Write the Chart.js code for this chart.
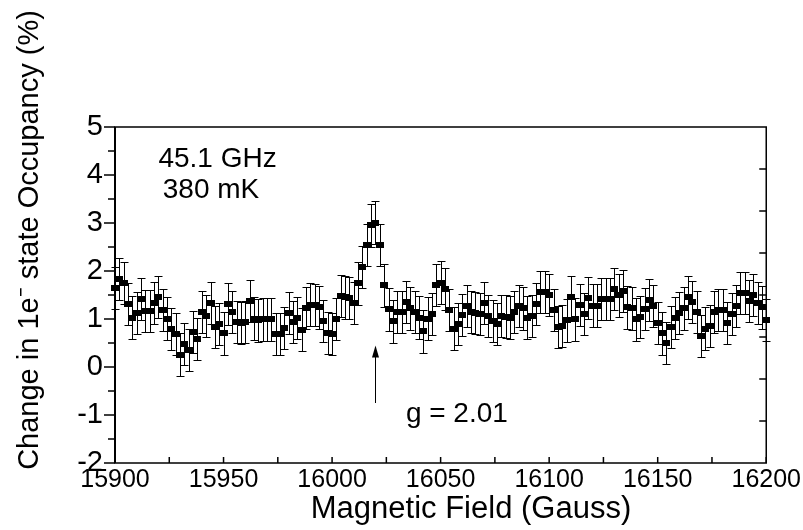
<!DOCTYPE html>
<html>
<head>
<meta charset="utf-8">
<script src="https://cdn.jsdelivr.net/npm/chart.js@4.4.0/dist/chart.umd.min.js"></script>
<style>
  html, body { margin: 0; padding: 0; background: #fff; }
  #wrap { width: 803px; height: 530px; position: relative; }
</style>
</head>
<body>
<div id="wrap"><canvas id="chart"></canvas></div>
<script>
// magnetic field (Gauss), one reading every 2 G
const fieldGauss = [
  15900, 15902, 15904, 15906, 15908, 15910, 15912, 15914, 15916, 15918,
  15920, 15922, 15924, 15926, 15928, 15930, 15932, 15934, 15936, 15938,
  15940, 15942, 15944, 15946, 15948, 15950, 15952, 15954, 15956, 15958,
  15960, 15962, 15964, 15966, 15968, 15970, 15972, 15974, 15976, 15978,
  15980, 15982, 15984, 15986, 15988, 15990, 15992, 15994, 15996, 15998,
  16000, 16002, 16004, 16006, 16008, 16010, 16012, 16014, 16016, 16018,
  16020, 16022, 16024, 16026, 16028, 16030, 16032, 16034, 16036, 16038,
  16040, 16042, 16044, 16046, 16048, 16050, 16052, 16054, 16056, 16058,
  16060, 16062, 16064, 16066, 16068, 16070, 16072, 16074, 16076, 16078,
  16080, 16082, 16084, 16086, 16088, 16090, 16092, 16094, 16096, 16098,
  16100, 16102, 16104, 16106, 16108, 16110, 16112, 16114, 16116, 16118,
  16120, 16122, 16124, 16126, 16128, 16130, 16132, 16134, 16136, 16138,
  16140, 16142, 16144, 16146, 16148, 16150, 16152, 16154, 16156, 16158,
  16160, 16162, 16164, 16166, 16168, 16170, 16172, 16174, 16176, 16178,
  16180, 16182, 16184, 16186, 16188, 16190, 16192, 16194, 16196, 16198,
  16200
];

// change in 1e- state occupancy (%)
const occupancy = [
  1.65, 1.84, 1.75, 1.31, 1.03, 1.12, 1.41, 1.17, 1.17, 1.34,
  1.46, 1.18, 1.01, 0.79, 0.68, 0.26, 0.48, 0.36, 0.73, 0.59,
  1.15, 1.06, 1.34, 0.84, 0.89, 0.70, 1.31, 1.15, 0.94, 0.92,
  0.94, 1.37, 1.01, 0.97, 0.99, 0.99, 0.99, 0.68, 0.68, 0.82,
  1.12, 0.93, 1.02, 0.78, 1.23, 1.30, 1.29, 1.24, 0.96, 0.71,
  0.68, 1.00, 1.48, 1.45, 1.44, 1.34, 1.74, 2.08, 2.54, 2.95,
  3.01, 2.54, 1.70, 1.20, 0.95, 1.15, 1.14, 1.35, 1.22, 1.14,
  1.03, 0.74, 1.01, 1.10, 1.71, 1.76, 1.63, 1.19, 0.80, 0.90,
  1.08, 1.27, 1.14, 1.13, 1.10, 1.34, 1.06, 0.96, 0.90, 1.07,
  1.05, 1.03, 1.15, 1.27, 1.22, 1.03, 1.07, 1.31, 1.56, 1.57,
  1.50, 1.19, 0.83, 0.86, 0.97, 1.45, 0.99, 1.29, 1.10, 1.43,
  1.28, 1.28, 1.41, 1.41, 1.41, 1.62, 1.49, 1.59, 1.24, 1.22,
  0.99, 1.04, 1.21, 1.40, 1.27, 0.92, 0.70, 0.50, 0.83, 1.02,
  1.12, 1.22, 1.45, 1.36, 1.14, 0.65, 0.80, 0.85, 1.14, 1.19,
  1.19, 0.91, 1.11, 1.27, 1.54, 1.54, 1.38, 1.50, 1.34, 1.24,
  0.98
];

const errorSize = 0.44;   // +/- on every point

const notes = [
  { text: '45.1 GHz', x: 15920, y: 4.17 },
  { text: '380 mK', x: 15922, y: 3.52 },
  { text: 'g = 2.01', x: 16034, y: -1.15 }
];
const arrowField = 16020;
const arrowFrom = -0.75;
const arrowTo = 0.45;

const FONT = 'Arial, "Liberation Sans", sans-serif';

// small filled rectangle used as marker
const marker = document.createElement('canvas');
marker.width = 8;
marker.height = 6;
const mctx = marker.getContext('2d');
mctx.fillStyle = '#000';
mctx.fillRect(0, 0, 8, 6);

const decor = {
  id: 'decor',
  beforeDatasetsDraw(chart) {
    const { ctx, scales: { x, y } } = chart;
    ctx.save();
    ctx.strokeStyle = '#000';
    ctx.lineWidth = 1;
    ctx.beginPath();
    fieldGauss.forEach((f, i) => {
      const px = Math.round(x.getPixelForValue(f)) + 0.5;
      const top = Math.round(y.getPixelForValue(occupancy[i] + errorSize)) + 0.5;
      const bot = Math.round(y.getPixelForValue(occupancy[i] - errorSize)) + 0.5;
      ctx.moveTo(px, top); ctx.lineTo(px, bot);
      ctx.moveTo(px - 4, top); ctx.lineTo(px + 4, top);
      ctx.moveTo(px - 4, bot); ctx.lineTo(px + 4, bot);
    });
    ctx.stroke();
    ctx.restore();
  },
  afterDraw(chart) {
    const { ctx, chartArea: a, scales: { x, y } } = chart;
    ctx.save();
    ctx.strokeStyle = '#000';
    ctx.fillStyle = '#000';

    // frame
    ctx.lineWidth = 1.5;
    ctx.strokeRect(a.left, a.top, a.right - a.left, a.bottom - a.top);
    ctx.lineWidth = 2;
    ctx.beginPath();
    ctx.moveTo(a.left, a.top); ctx.lineTo(a.left, a.bottom);
    ctx.stroke();

    // left ticks (outside), major + half steps
    ctx.lineWidth = 1.5;
    ctx.beginPath();
    for (let v = y.min; v <= y.max; v += 0.5) {
      const py = y.getPixelForValue(v);
      const len = Number.isInteger(v) ? 11 : 7;
      ctx.moveTo(a.left, py); ctx.lineTo(a.left - len, py);
    }
    // bottom ticks (inside) every 25 G
    for (let v = x.min; v <= x.max; v += 25) {
      const px = x.getPixelForValue(v);
      ctx.moveTo(px, a.bottom); ctx.lineTo(px, a.bottom - 6);
    }
    // right ticks (inside), 8 divisions
    for (let k = 1; k < 8; k++) {
      const py = a.top + (a.bottom - a.top) * k / 8;
      ctx.moveTo(a.right, py); ctx.lineTo(a.right - 7, py);
    }
    ctx.stroke();

    // arrow
    const ax = Math.round(x.getPixelForValue(arrowField)) + 0.5;
    const ay0 = y.getPixelForValue(arrowFrom);
    const ay1 = y.getPixelForValue(arrowTo);
    ctx.lineWidth = 1;
    ctx.beginPath();
    ctx.moveTo(ax, ay0); ctx.lineTo(ax, ay1 + 8);
    ctx.stroke();
    ctx.beginPath();
    ctx.moveTo(ax, ay1);
    ctx.lineTo(ax - 3.5, ay1 + 12);
    ctx.lineTo(ax + 3.5, ay1 + 12);
    ctx.closePath();
    ctx.fill();

    // notes
    ctx.font = '28px ' + FONT;
    ctx.textAlign = 'left';
    ctx.textBaseline = 'alphabetic';
    notes.forEach(n => {
      ctx.fillText(n.text, x.getPixelForValue(n.x), y.getPixelForValue(n.y));
    });

    // axis titles
    ctx.font = '31px ' + FONT;
    ctx.textAlign = 'center';
    ctx.textBaseline = 'alphabetic';
    ctx.fillText('Magnetic Field (Gauss)', 471, 518);

    ctx.font = '29px ' + FONT;
    ctx.translate(38, 240);
    ctx.rotate(-Math.PI / 2);
    ctx.fillText('Change in 1e\u207B state Occupancy (%)', 0, 0);
    ctx.restore();
  }
};

new Chart(document.getElementById('chart'), {
  type: 'scatter',
  data: {
    datasets: [{
      data: fieldGauss.map((f, i) => ({ x: f, y: occupancy[i] })),
      pointStyle: marker,
      pointRadius: 4,
      showLine: false,
      clip: false
    }]
  },
  options: {
    responsive: true,
    maintainAspectRatio: false,
    animation: false,
    layout: { padding: { left: 0, right: 34, top: 127, bottom: 0 } },
    plugins: { legend: { display: false }, tooltip: { enabled: false } },
    scales: {
      x: {
        type: 'linear',
        min: 15900,
        max: 16200,
        afterFit(s) { s.height = 67; },
        grid: { display: false, drawTicks: false },
        border: { display: false },
        ticks: {
          stepSize: 50, autoSkip: false, maxRotation: 0, padding: 2,
          color: '#000', font: { family: FONT, size: 25 },
          callback: v => String(v)
        }
      },
      y: {
        min: -2,
        max: 5,
        afterFit(s) { s.width = 115; },
        grid: { display: false, drawTicks: false },
        border: { display: false },
        ticks: {
          stepSize: 1, autoSkip: false, padding: 12,
          color: '#000', font: { family: FONT, size: 29 },
          callback: v => String(v)
        }
      }
    }
  },
  plugins: [decor]
});
</script>
</body>
</html>
